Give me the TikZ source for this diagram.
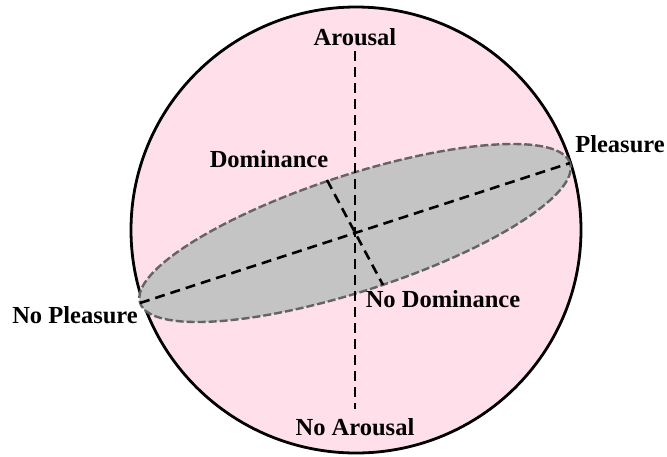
\documentclass[tikz,border=0pt]{standalone}
\usepackage{fontspec}
\setmainfont{Liberation Serif}
\begin{document}
\begin{tikzpicture}[x=1pt,y=-1pt,
  lbl/.style={font=\fontsize{24.5}{28}\selectfont\bfseries, inner sep=0pt, anchor=base},
  axis/.style={line width=2.6pt, dash pattern=on 10pt off 6pt},
  sphere/.style={draw=black, line width=2.8pt, fill=pinkbg},
  disc/.style={draw=edgegray, line width=2.4pt, dash pattern=on 8pt off 3pt, fill=discgray}]
\definecolor{pinkbg}{RGB}{255,223,234}
\definecolor{discgray}{RGB}{196,196,196}
\definecolor{edgegray}{RGB}{100,100,100}
\useasboundingbox (0,0) rectangle (667,456);
% sphere
\coordinate (c) at (356,230);
\draw[sphere] (c) ellipse [x radius=225pt, y radius=223pt];
% disc
\coordinate (o) at (355,233);
\draw[disc, rotate around={18:(o)}] (o) ellipse [x radius=226pt, y radius=58pt];
% axis end points
\coordinate (aT) at (355,51);
\coordinate (aB) at (355,409);
\coordinate (pR) at (570,163);
\coordinate (pL) at (140,303);
\coordinate (dT) at (327,180);
\coordinate (dB) at (383,285);
\draw[axis] (aT) -- (aB);
\draw[axis] (pL) -- (pR);
\draw[axis] (dT) -- (dB);
% labels
\node[lbl] (arousal) at (355,45) {Arousal};
\node[lbl] (noarousal) at (355,435) {No Arousal};
\node[lbl] (pleasure) at (620,152) {Pleasure};
\node[lbl] (nopleasure) at (75,323) {No Pleasure};
\node[lbl] (dominance) at (269,167) {Dominance};
\node[lbl] (nodominance) at (443,307) {No Dominance};
\end{tikzpicture}
\end{document}
